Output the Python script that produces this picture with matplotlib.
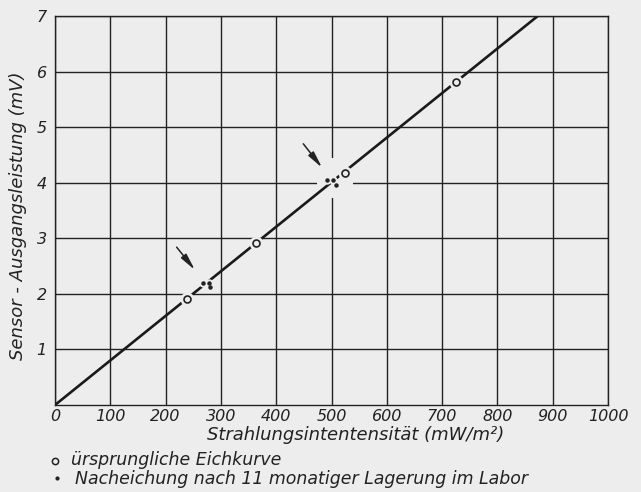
import matplotlib
matplotlib.use("Agg")
import matplotlib.pyplot as plt
from matplotlib.lines import Line2D
from matplotlib.patches import Rectangle

# ---- data ----
x_ticks = [0, 100, 200, 300, 400, 500, 600, 700, 800, 900, 1000]
y_ticks = [1, 2, 3, 4, 5, 6, 7]
line_x = [0, 873]
line_y = [0, 7]
orig_x = [238, 363, 524, 726]          # ursprüngliche Eichkurve
orig_y = [1.91, 2.91, 4.17, 5.81]
recal_x = [268, 278, 281, 492, 503, 509]  # Nacheichung
recal_y = [2.20, 2.20, 2.12, 4.05, 4.04, 3.96]
arrow_from = [(220, 2.84), (449, 4.70)]
arrow_to = [(253, 2.43), (483, 4.27)]

x_label = "Strahlungsintentensität (mW/m²)"
y_label = "Sensor - Ausgangsleistung (mV)"
legend_orig = "ürsprungliche Eichkurve"
legend_recal = "Nacheichung nach 11 monatiger Lagerung im Labor"

BG = "#ededed"
INK = "#222222"
plt.rcParams['font.family'] = ['DejaVu Sans']

fig = plt.figure(figsize=(6.41, 4.92), dpi=100, facecolor=BG)
ax = fig.add_axes([55/641, 1-405/492, (608-55)/641, (405-16)/492])
ax.set_facecolor(BG)
ax.set_xlim(0, 1000)
ax.set_ylim(0, 7)

# grid
for xv in x_ticks:
    ax.axvline(xv, color=INK, lw=1.0, zorder=1)
for yv in y_ticks:
    ax.axhline(yv, color=INK, lw=1.0, zorder=1)
for s in ax.spines.values():
    s.set_color(INK)
    s.set_linewidth(1.0)

# blank area around second group
ax.add_patch(Rectangle((474, 3.73), 65, 0.72, facecolor=BG, edgecolor='none', zorder=1.5))

# main line
ax.plot(line_x, line_y, color="#1a1a1a", lw=1.9, zorder=2, solid_capstyle='butt')

# halos
ax.plot(orig_x, orig_y, ls='none', marker='o', ms=10, mfc=BG, mec='none', zorder=3)
ax.plot(recal_x, recal_y, ls='none', marker='o', ms=6, mfc=BG, mec='none', zorder=3)
# markers
ax.plot(orig_x, orig_y, ls='none', marker='o', ms=5, mfc=BG, mec=INK, mew=1.2, zorder=4)
ax.plot(recal_x, recal_y, ls='none', marker='o', ms=2.2, mfc=INK, mec=INK, zorder=4)

# arrows
for (x0, y0), (x1, y1) in zip(arrow_from, arrow_to):
    ax.annotate('', xy=(x1, y1), xytext=(x0, y0),
                arrowprops=dict(arrowstyle='-|>,head_length=1.0,head_width=0.2',
                                color=INK, lw=1.1, shrinkA=0, shrinkB=0), zorder=5)

ax.set_xticks(x_ticks)
ax.set_xticklabels([str(v) for v in x_ticks], fontstyle='italic', fontsize=11.5, color=INK)
ax.set_yticks(y_ticks)
ax.set_yticklabels([str(v) for v in y_ticks], fontstyle='italic', fontsize=11.5, color=INK)
ax.tick_params(length=0, pad=3)
ax.tick_params(axis='y', pad=6)

fig.text(356/641, 1-435/492, x_label, ha='center', va='center', fontstyle='italic',
         fontsize=13, color=INK)
fig.text(18/641, 1-216/492, y_label, ha='center', va='center', rotation=90,
         fontstyle='italic', fontsize=13, color=INK)

# legend
fig.add_artist(Line2D([55/641], [1-461/492], marker='o', ms=4.5, mfc=BG, mec=INK, mew=1.1,
                      ls='none', transform=fig.transFigure))
fig.add_artist(Line2D([57/641], [1-478/492], marker='o', ms=2, mfc=INK, mec=INK,
                      ls='none', transform=fig.transFigure))
fig.text(71/641, 1-460/492, legend_orig, ha='left', va='center', fontstyle='italic',
         fontsize=12.5, color=INK)
fig.text(75/641, 1-479/492, legend_recal, ha='left', va='center', fontstyle='italic',
         fontsize=12.5, color=INK)

fig.savefig("out.png", dpi=100, facecolor=BG)
